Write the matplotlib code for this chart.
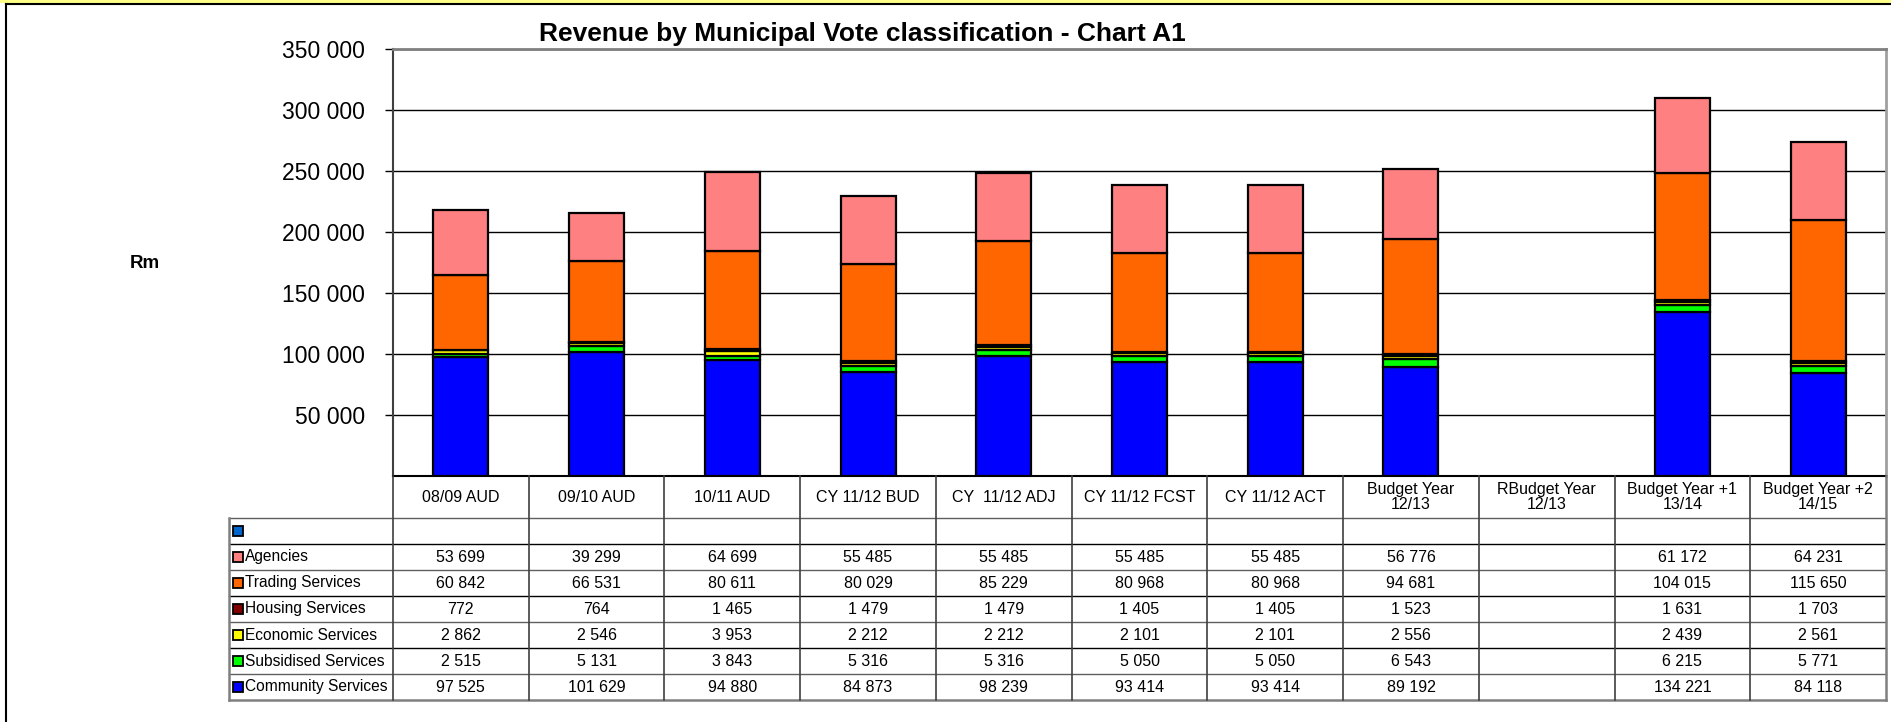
import numpy as np
import matplotlib
matplotlib.use("Agg")
import matplotlib.pyplot as plt
from matplotlib.lines import Line2D
from matplotlib.patches import Rectangle

plt.rcParams['font.family'] = ['Liberation Sans', 'DejaVu Sans']

categories = ["08/09 AUD", "09/10 AUD", "10/11 AUD", "CY 11/12 BUD", "CY  11/12 ADJ",
              "CY 11/12 FCST", "CY 11/12 ACT", "Budget Year\n12/13", "RBudget Year\n12/13",
              "Budget Year +1\n13/14", "Budget Year +2\n14/15"]
community = [97525, 101629, 94880, 84873, 98239, 93414, 93414, 89192, None, 134221, 84118]
subsidised = [2515, 5131, 3843, 5316, 5316, 5050, 5050, 6543, None, 6215, 5771]
economic = [2862, 2546, 3953, 2212, 2212, 2101, 2101, 2556, None, 2439, 2561]
housing = [772, 764, 1465, 1479, 1479, 1405, 1405, 1523, None, 1631, 1703]
trading = [60842, 66531, 80611, 80029, 85229, 80968, 80968, 94681, None, 104015, 115650]
agencies = [53699, 39299, 64699, 55485, 55485, 55485, 55485, 56776, None, 61172, 64231]

# stacked bottom -> top
series = [("Community Services", community, "#0000FF"),
          ("Subsidised Services", subsidised, "#00FF00"),
          ("Economic Services", economic, "#FFFF00"),
          ("Housing Services", housing, "#800000"),
          ("Trading Services", trading, "#FF6600"),
          ("Agencies", agencies, "#FF8080")]
blank_color = "#0066CC"
yticks = [50000, 100000, 150000, 200000, 250000, 300000, 350000]

W, H = 1891, 722
fig = plt.figure(figsize=(W / 100, H / 100), dpi=100)

# outer frame
fig.patches.append(Rectangle((0, 1 - 3 / H), 1, 3 / H, transform=fig.transFigure,
                             facecolor="#FFFF88", edgecolor="none"))
fig.add_artist(Line2D([6 / W, 1], [1 - 4 / H, 1 - 4 / H], color="black", lw=1.5))
fig.add_artist(Line2D([6 / W, 6 / W], [0, 1 - 4 / H], color="black", lw=1.5))

# plot area in pixels
x0, x1, ytop, ybot = 393, 1886, 49, 476
ax = fig.add_axes([x0 / W, 1 - ybot / H, (x1 - x0) / W, (ybot - ytop) / H])

x = np.arange(len(categories))
bottom = np.zeros(len(categories))
for name, vals, col in series:
    v = np.array([np.nan if a is None else a for a in vals], dtype=float)
    ax.bar(x, v, 0.405, bottom=bottom, color=col, edgecolor="black", linewidth=1.6, zorder=3)
    bottom = bottom + np.nan_to_num(v)

ax.set_xlim(-0.5, len(categories) - 0.5)
ax.set_ylim(0, 350000)
ax.set_yticks(yticks)
ax.set_yticklabels([f"{t:,}".replace(",", " ") for t in yticks], fontsize=16.5)
ax.tick_params(axis="y", direction="out", length=6, width=1, pad=14)
ax.set_xticks([])
ax.yaxis.grid(True, color="black", lw=1, zorder=0)
ax.spines["top"].set_color("#808080")
ax.spines["top"].set_linewidth(2)
ax.spines["right"].set_color("#A0A0A0")
ax.spines["right"].set_linewidth(2)
ax.spines["left"].set_color("#404040")
ax.spines["left"].set_linewidth(1.5)
ax.spines["bottom"].set_linewidth(1.5)

fig.text(862 / W, 1 - 34 / H, "Revenue by Municipal Vote classification - Chart A1",
         ha="center", va="center", fontsize=19, fontweight="bold")
fig.text(145 / W, 1 - 263 / H, "Rm", ha="center", va="center", fontsize=13.5, fontweight="bold")

# data table under the chart, same x scale as the bars
colw = (x1 - x0) / len(categories)
kx = 229
tab = fig.add_axes([kx / W, 1 - 700 / H, (x1 - kx) / W, (700 - ybot) / H])
tab.set_xlim(-0.5 - (x0 - kx) / colw, len(categories) - 0.5)
tab.set_ylim(700 - ybot, 0)
tab.axis("off")
xl = -0.5 - (x0 - kx) / colw
xr = len(categories) - 0.5
hdr = 518 - ybot
rowh = 26

for i, c in enumerate(categories):
    tab.text(i, hdr / 2, c, ha="center", va="center", fontsize=11.5, linespacing=1.0)

rows = [("", None, blank_color)] + [(n, v, c) for n, v, c in series[::-1]]
for r, (name, vals, col) in enumerate(rows):
    yc = hdr + rowh * (r + 0.5)
    tab.plot([xl + 9 / colw], [yc], marker="s", markersize=6.5, color=col,
             mec="black", mew=1.3, clip_on=False)
    tab.text(xl + 16 / colw, yc, name, ha="left", va="center", fontsize=11.2)
    if vals is None:
        continue
    for i, v in enumerate(vals):
        if v is not None:
            tab.text(i, yc, f"{v:,}".replace(",", " "), ha="center", va="center", fontsize=11.5)

for r in range(len(rows)):
    yy = hdr + rowh * r
    tab.plot([xl, xr], [yy, yy], color="black" if r % 2 else "#606060", lw=1, clip_on=False)
ybt = hdr + rowh * len(rows)
tab.plot([xl, xr], [ybt, ybt], color="#808080", lw=1.8, clip_on=False)
tab.plot([xl, xl], [hdr, ybt], color="#808080", lw=1.8, clip_on=False)
for k in range(len(categories) + 1):
    tab.plot([k - 0.5, k - 0.5], [0, ybt], color="#808080" if k == len(categories) else "#404040",
             lw=1.8 if k == len(categories) else 1.2, clip_on=False)

fig.savefig("out.png", dpi=100)
